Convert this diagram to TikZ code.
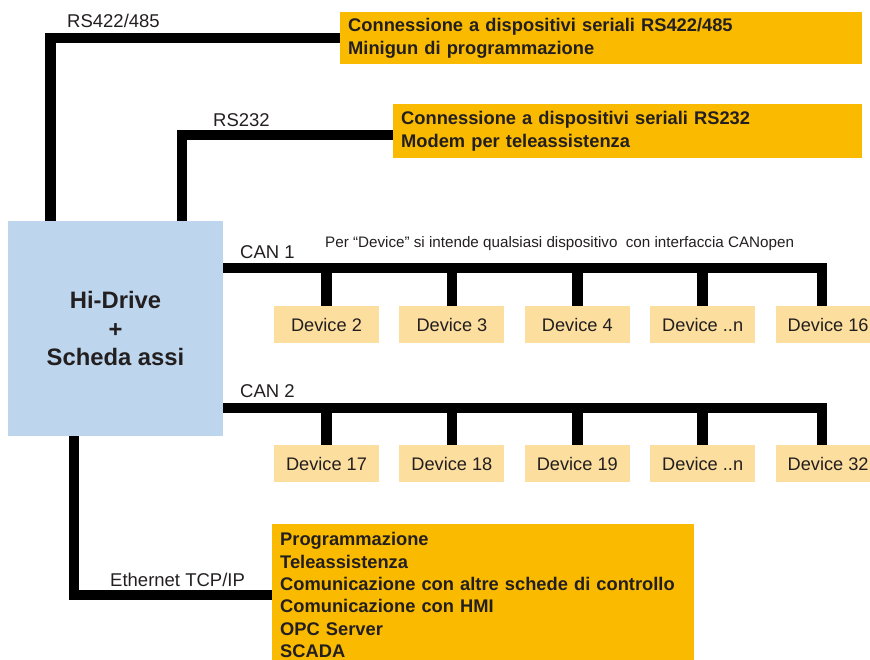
\documentclass[tikz,border=0pt]{standalone}
\usepackage{fontspec}
\setmainfont{Liberation Sans}
\usetikzlibrary{positioning,calc}
\definecolor{drivebl}{RGB}{189,214,237}
\definecolor{infoorange}{RGB}{249,186,0}
\definecolor{devsand}{RGB}{252,222,158}
\definecolor{inkgrey}{RGB}{35,31,32}
\tikzset{
  fig/.style={font=\fontsize{18.5}{22.4}\selectfont,text=inkgrey},
  bus/.style={line width=10.5pt,black},
  drivebox/.style={fill=drivebl,minimum width=215pt,minimum height=215pt,
                   align=center,inner sep=0pt,
                   font=\fontsize{23.8}{28.5}\selectfont\bfseries},
  infobox/.style={fill=infoorange,anchor=north west,align=left,
                  inner xsep=8pt,inner ysep=0pt,
                  font=\fontsize{18.3}{22.4}\selectfont\bfseries},
  devbox/.style={fill=devsand,minimum width=105pt,minimum height=37pt,
                 inner sep=0pt,font=\fontsize{18.2}{22}\selectfont},
  lbl/.style={anchor=base west,inner sep=0pt},
}

\begin{document}
\begin{tikzpicture}[fig,x=1pt,y=-1pt]
\useasboundingbox (0,0) rectangle (870,659);

% controller
\node[drivebox] (drive) at (115.5,328.5) {Hi-Drive\\+\\Scheda assi};

% =======================  serial links  =====================
\node[infobox,minimum height=52pt,text width=506pt] (rs485) at (340,12)
     {Connessione a dispositivi seriali RS422/485\\Minigun di programmazione};
\node[infobox,minimum height=54pt,text width=453pt] (rs232) at (393,104)
     {Connessione a dispositivi seriali RS232\\Modem per teleassistenza};
\node[lbl] (l485) at (67,27) {RS422/485};
\node[lbl] (l232) at (213,126) {RS232};

\draw[bus] ([xshift=42.5pt]drive.north west) |- (rs485.west);
\draw[bus] ([xshift=174pt]drive.north west) |- ([yshift=-4pt]rs232.west);

% =======================  CAN 1  =====================
\node[devbox] (d2) at (326.5,324.5) {Device 2};
\node[devbox,right=20pt of d2] (d3) {Device 3};
\node[devbox,right=20pt of d3] (d4) {Device 4};
\node[devbox,right=20pt of d4] (dn1) {Device ..n};
\node[devbox,right=20pt of dn1] (d16) {Device 16};
\node[lbl] (lcan1) at (240,258) {CAN 1};
\node[lbl,font=\fontsize{15.2}{17}\selectfont] (devnote) at (325,247.5)
     {Per “Device” si intende qualsiasi dispositivo~ con interfaccia CANopen};

\coordinate (can1) at ([yshift=60.5pt]drive.east);
\draw[bus] (can1) -| ([xshift=-6pt]d16.north);
\foreach \d in {d2,d3,d4,dn1}
  \draw[bus] (\d.north) -- (\d.north |- can1);

% =======================  CAN 2  =====================
\node[devbox] (d17) at (326.5,463.5) {Device 17};
\node[devbox,right=20pt of d17] (d18) {Device 18};
\node[devbox,right=20pt of d18] (d19) {Device 19};
\node[devbox,right=20pt of d19] (dn2) {Device ..n};
\node[devbox,right=20pt of dn2] (d32) {Device 32};
\node[lbl] (lcan2) at (240,397) {CAN 2};

\coordinate (can2) at ([yshift=-79.5pt]drive.east);
\draw[bus] (can2) -| ([xshift=-6pt]d32.north);
\foreach \d in {d17,d18,d19,dn2}
  \draw[bus] (\d.north) -- (\d.north |- can2);

% =======================  Ethernet  =====================
\node[infobox,minimum height=142pt,text width=406pt] (eth) at (272,524)
     {Programmazione\\Teleassistenza\\Comunicazione con altre schede di controllo\\
      Comunicazione con HMI\\OPC Server\\SCADA};
\node[lbl] (leth) at (110,586) {Ethernet TCP/IP};

\draw[bus] ([xshift=66pt]drive.south west) |- (eth.west);

\end{tikzpicture}
\end{document}
